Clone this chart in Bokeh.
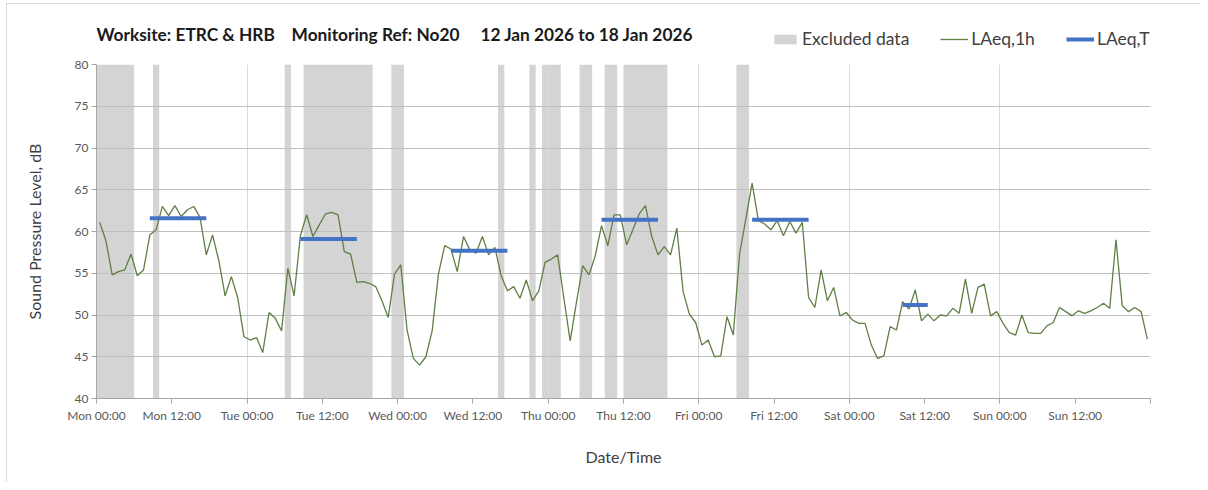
from bokeh.plotting import figure
from bokeh.models import FixedTicker, Legend, LegendItem, Range1d, Grid, Label
from bokeh.layouts import column
from bokeh.embed import file_html
from bokeh.resources import INLINE

# ---------------- data ----------------
title_parts = ["Worksite: ETRC & HRB", "Monitoring Ref: No20", "12 Jan 2026 to 18 Jan 2026"]

# hourly LAeq,1h values, Mon 00:00 .. Sun 23:00 (hour index 0..167)
laeq_1h = [
    61.1, 58.9, 54.8, 55.2, 55.4, 57.3, 54.7, 55.4, 59.6, 60.2, 63.0, 61.9,
    63.1, 61.8, 62.6, 63.0, 61.7, 57.2, 59.6, 56.5, 52.3, 54.6, 52.1, 47.4,
    47.0, 47.3, 45.5, 50.3, 49.6, 48.1, 55.6, 52.3, 59.5, 62.0, 59.4, 60.8,
    62.1, 62.3, 62.0, 57.6, 57.3, 53.9, 54.0, 53.8, 53.4, 51.7, 49.7, 54.9,
    56.0, 48.2, 44.8, 44.0, 45.0, 48.1, 54.9, 58.3, 57.9, 55.2, 59.4, 57.8,
    57.4, 59.4, 57.2, 58.1, 54.7, 52.9, 53.4, 52.0, 54.2, 51.7, 52.9, 56.3,
    56.7, 57.2, 52.0, 46.9, 51.5, 55.9, 54.8, 57.1, 60.7, 58.3, 62.0, 62.0,
    58.4, 60.2, 62.1, 63.1, 59.4, 57.2, 58.2, 57.2, 60.4, 52.8, 50.1, 49.1,
    46.4, 47.0, 45.0, 45.1, 49.8, 47.6, 57.3, 61.5, 65.8, 61.3, 60.9, 60.2,
    61.3, 59.5, 61.2, 59.8, 61.1, 52.1, 50.9, 55.4, 51.7, 53.3, 49.9, 50.3,
    49.4, 49.0, 49.0, 46.4, 44.8, 45.1, 48.6, 48.2, 51.6, 50.7, 53.0, 49.3,
    50.1, 49.3, 50.0, 49.9, 50.8, 50.2, 54.3, 50.2, 53.3, 53.7, 49.9, 50.4,
    49.0, 47.9, 47.6, 50.0, 47.9, 47.8, 47.8, 48.7, 49.1, 50.9, 50.4, 49.9,
    50.5, 50.2, 50.5, 50.9, 51.4, 50.8, 59.0, 51.1, 50.4, 50.9, 50.4, 47.1,
]

# LAeq,T periods (first and last hour index of period) and levels
period_start = [8, 32, 56, 80, 104, 128]
period_end = [17, 41, 65, 89, 113, 132]
laeq_T = [61.6, 59.1, 57.7, 61.4, 61.4, 51.2]

# excluded data spans, hours from Mon 00:00
excl_start = [0, 9, 30, 33, 47, 64, 69, 71, 77, 81, 84, 102]
excl_end = [6, 10, 31, 44, 49, 65, 70, 74, 79, 83, 91, 104]

tick_hours = [0, 12, 24, 36, 48, 60, 72, 84, 96, 108, 120, 132, 144, 156, 168]
tick_labels = ["Mon 00:00", "Mon 12:00", "Tue 00:00", "Tue 12:00", "Wed 00:00",
               "Wed 12:00", "Thu 00:00", "Thu 12:00", "Fri 00:00", "Fri 12:00",
               "Sat 00:00", "Sat 12:00", "Sun 00:00", "Sun 12:00", ""]

# ---------------- styles ----------------
FONT = "Lato"
GREY_FILL = "#D4D4D4"
GREEN = "#5f7f45"
BLUE = "#4472C4"
gap1 = "\u00a0" * 4
gap2 = "\u00a0" * 5

hour_mid = [i + 0.5 for i in range(len(laeq_1h))]
seg_x0 = [s + 0.5 for s in period_start]
seg_x1 = [e + 0.5 for e in period_end]


def draw_series(fig):
    q = fig.quad(left=excl_start, right=excl_end, bottom=40, top=80,
                 fill_color=GREY_FILL, line_color=None, level="image")
    ln = fig.line(hour_mid, laeq_1h, line_color=GREEN, line_width=1.3)
    sg = fig.segment(x0=seg_x0, x1=seg_x1, y0=laeq_T, y1=laeq_T,
                     line_color=BLUE, line_width=4)
    return q, ln, sg


# ---------------- header (title + legend) ----------------
# the header shows the same series far outside its view; they only feed the legend
head = figure(width=1193, height=50, output_backend="svg", toolbar_location=None,
              x_range=Range1d(0, 168), y_range=Range1d(0, 1),
              x_axis_type=None, y_axis_type=None,
              min_border_left=0, min_border_right=0, min_border_top=0,
              min_border_bottom=0)
head.frame_align = False
head.grid.visible = False
head.outline_line_color = None
hq, hl, hs = draw_series(head)

head.add_layout(Label(x=89, y=20, x_units="screen", y_units="screen",
                      text=title_parts[0] + gap1 + title_parts[1] + gap2 + title_parts[2],
                      text_font=FONT, text_font_size="17.3px", text_font_style="bold",
                      text_color="#1a1a1a", text_baseline="middle", text_align="left"))

legend = Legend(items=[LegendItem(label="Excluded data", renderers=[hq]),
                       LegendItem(label="LAeq,1h", renderers=[hl]),
                       LegendItem(label="LAeq,T", renderers=[hs])],
                orientation="horizontal", location=(764, 5),
                glyph_width=28, glyph_height=12, label_height=12,
                spacing=31, padding=0, margin=0, label_standoff=3,
                border_line_color=None, background_fill_alpha=0,
                label_text_font=FONT, label_text_font_size="17.5px",
                label_text_color="#404040")
head.add_layout(legend, "center")

# ---------------- main chart ----------------
p = figure(width=1193, height=428, output_backend="svg", toolbar_location=None,
           x_range=Range1d(0, 168), y_range=Range1d(40, 80),
           min_border_left=89, min_border_right=50, min_border_top=10,
           min_border_bottom=84)
p.outline_line_color = None
p.background_fill_color = "white"
p.border_fill_color = "white"
draw_series(p)

for ax in (p.xaxis[0], p.yaxis[0]):
    ax.axis_line_color = "#A6A6A6"
    ax.major_tick_line_color = "#A6A6A6"
    ax.minor_tick_line_color = None
    ax.major_tick_in = 0
    ax.major_tick_out = 5
    ax.major_label_text_font = FONT
    ax.major_label_text_font_size = "12px"
    ax.major_label_text_color = "#595959"
    ax.axis_label_text_font = FONT
    ax.axis_label_text_font_size = "16px"
    ax.axis_label_text_font_style = "normal"
    ax.axis_label_text_color = "#404040"

p.xaxis.ticker = FixedTicker(ticks=tick_hours)
p.xaxis.major_label_overrides = {t: l for t, l in zip(tick_hours, tick_labels)}
p.xaxis.major_label_standoff = 4
p.xaxis.axis_label = "Date/Time"
p.xaxis.axis_label_standoff = 21

p.yaxis.ticker = FixedTicker(ticks=list(range(40, 81, 5)))
p.yaxis.major_label_standoff = 3
p.yaxis.axis_label = "Sound Pressure Level, dB"
p.yaxis.axis_label_standoff = 28

p.xgrid.ticker = FixedTicker(ticks=tick_hours[2:-1:2])
p.xgrid.grid_line_color = "#D9D9D9"
p.ygrid.ticker = FixedTicker(ticks=list(range(45, 81, 5)))
p.ygrid.grid_line_color = "#BFBFBF"
p.add_layout(Grid(dimension=0, ticker=FixedTicker(ticks=[168]), grid_line_color="#A6A6A6"))

page = column(head, p, spacing=0,
              styles={"border-left": "1px solid #D9D9D9", "border-top": "1px solid #D9D9D9",
                      "margin-left": "6px", "margin-top": "3px"})

open("out.html", "w").write(file_html(page, INLINE))
